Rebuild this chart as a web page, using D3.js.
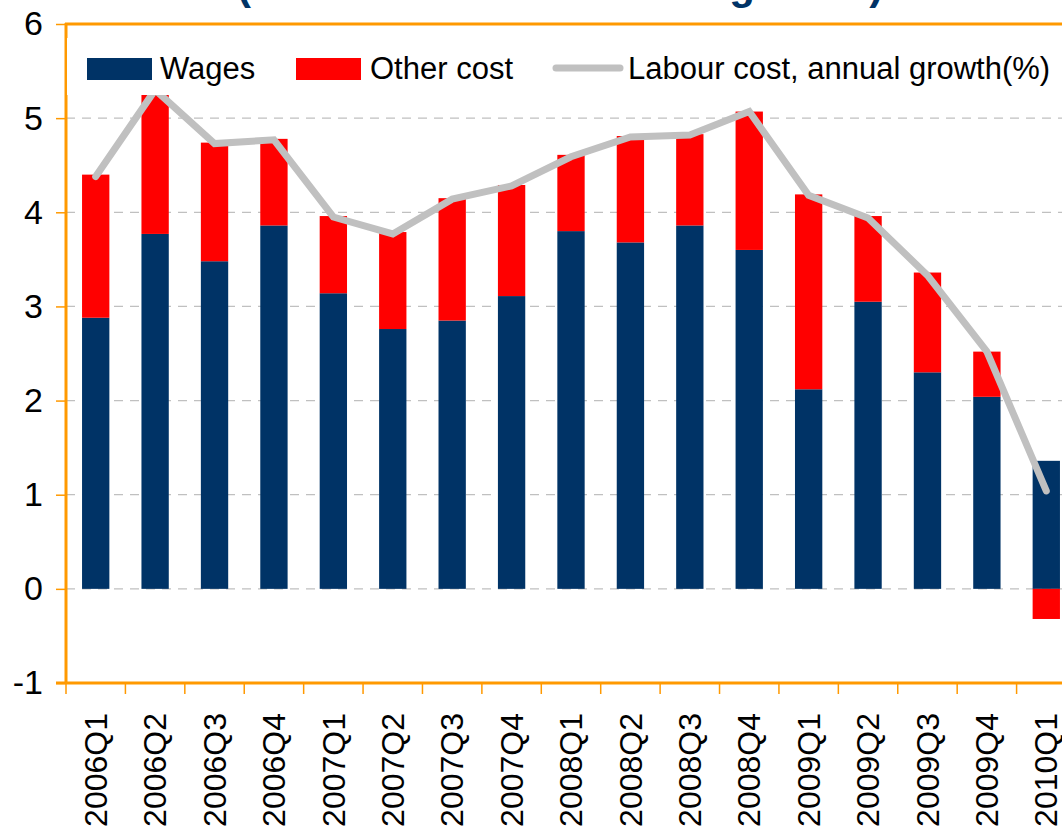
<!DOCTYPE html>
<html>
<head>
<meta charset="utf-8">
<title>Labour cost growth</title>
<script src="https://d3js.org/d3.v7.min.js"></script>
<style>
  body { margin: 0; background: #fff; overflow: hidden; }
  svg { display: block; font-family: "Liberation Sans", Arial, sans-serif; }
</style>
</head>
<body>
<svg id="chart" width="1062" height="834"></svg>
<script>
// quarters on the x axis
var quarters = ["2006Q1","2006Q2","2006Q3","2006Q4","2007Q1","2007Q2","2007Q3","2007Q4",
                "2008Q1","2008Q2","2008Q3","2008Q4","2009Q1","2009Q2","2009Q3","2009Q4","2010Q1"]
// contributions (percentage points)
var wages     = [2.88, 3.77, 3.48, 3.86, 3.14, 2.76, 2.85, 3.11, 3.80, 3.68, 3.86, 3.60, 2.12, 3.05, 2.30, 2.04, 1.36]
var otherCost = [1.52, 1.52, 1.26, 0.92, 0.82, 1.03, 1.30, 1.18, 0.81, 1.13, 0.97, 1.47, 2.07, 0.91, 1.06, 0.48, -0.32]
// labour cost, annual growth (%)
var labourCost = [4.38, 5.30, 4.73, 4.77, 3.95, 3.77, 4.14, 4.28, 4.59, 4.80, 4.82, 5.07, 4.18, 3.94, 3.33, 2.52, 1.04]
var yTicks = [-1, 0, 1, 2, 3, 4, 5, 6]
var titleText = "(contributions to annual growth)"
var legendNames = ["Wages", "Other cost", "Labour cost, annual growth(%)"]

var rows = quarters.map(function (q, i) {
    return { quarter: q, wages: wages[i], other: otherCost[i] }
})

var svg = d3.select("#chart")
var orange = "#ff9900"

var x = d3.scaleBand().domain(quarters).range([66, 1076]).paddingInner(0.54).paddingOuter(0.27)
var y = d3.scaleLinear().domain([-1, 6]).range([683, 24])

// title, mostly cut off at the top
svg.append("text")
    .attr("x", 237).attr("y", -1)
    .attr("fill", "#003366")
    .attr("font-weight", "bold")
    .attr("font-size", 42)
    .text(titleText)

// dashed grid
svg.append("g").selectAll("line")
    .data(yTicks.filter(function (t) { return t > -1 && t < 6 }))
    .enter().append("line")
    .attr("x1", 66).attr("x2", 1062)
    .attr("y1", function (d) { return y(d) }).attr("y2", function (d) { return y(d) })
    .attr("stroke", "#c0c0c0").attr("stroke-width", 1.3).attr("stroke-dasharray", "9,7")

// stacked bars
var series = d3.stack().keys(["wages", "other"]).offset(d3.stackOffsetDiverging)(rows)
var colors = { wages: "#003366", other: "#ff0000" }

svg.append("g").selectAll("g")
    .data(series).enter().append("g")
    .attr("fill", function (s) { return colors[s.key] })
    .selectAll("rect")
    .data(function (s) { return s }).enter().append("rect")
    .attr("x", function (d) { return x(d.data.quarter) })
    .attr("width", x.bandwidth())
    .attr("y", function (d) { return y(Math.max(d[0], d[1])) })
    .attr("height", function (d) { return Math.abs(y(d[0]) - y(d[1])) })

// growth line
svg.append("path")
    .datum(labourCost)
    .attr("fill", "none")
    .attr("stroke", "#c0c0c0")
    .attr("stroke-width", 7)
    .attr("stroke-linecap", "round")
    .attr("d", d3.line()
        .x(function (d, i) { return x(quarters[i]) + x.bandwidth() / 2 })
        .y(function (d) { return y(d) }))

// y axis
var yAxis = svg.append("g").attr("transform", "translate(66,0)")
    .call(d3.axisLeft(y).tickValues(yTicks).tickSize(10).tickPadding(13).tickFormat(function (d) { return String(d) }))
yAxis.select(".domain").remove()
yAxis.selectAll(".tick line").attr("stroke", orange).attr("stroke-width", 1.5)
yAxis.selectAll(".tick text").attr("font-size", 34).attr("fill", "#000")
    .attr("font-family", "Liberation Sans, Arial, sans-serif")

// x axis ticks sit on band boundaries, labels rotated
svg.append("g").selectAll("line")
    .data(quarters).enter().append("line")
    .attr("x1", function (d) { return x(d) - x.step() * x.paddingInner() / 2 })
    .attr("x2", function (d) { return x(d) - x.step() * x.paddingInner() / 2 })
    .attr("y1", 683).attr("y2", 694)
    .attr("stroke", orange).attr("stroke-width", 1.5)
svg.append("g").selectAll("text")
    .data(quarters).enter().append("text")
    .attr("transform", function (d) { return "translate(" + (x(d) + x.bandwidth() / 2) + ",713) rotate(-90)" })
    .attr("text-anchor", "end")
    .attr("dy", "0.35em")
    .attr("font-size", 32)
    .text(function (d) { return d })

// frame lines
svg.append("line").attr("x1", 66).attr("x2", 66).attr("y1", 23).attr("y2", 684)
    .attr("stroke", orange).attr("stroke-width", 3)
svg.append("line").attr("x1", 65).attr("x2", 1062).attr("y1", 24).attr("y2", 24)
    .attr("stroke", orange).attr("stroke-width", 3)
svg.append("line").attr("x1", 56).attr("x2", 1062).attr("y1", 683).attr("y2", 683)
    .attr("stroke", orange).attr("stroke-width", 3)

// legend
var legend = svg.append("g")
legend.append("rect").attr("x", 67).attr("y", 38).attr("width", 995).attr("height", 57).attr("fill", "#fff")
legend.append("rect").attr("x", 87).attr("y", 58).attr("width", 65).attr("height", 22).attr("fill", colors.wages)
legend.append("text").attr("x", 160).attr("y", 79).attr("font-size", 31).text(legendNames[0])
legend.append("rect").attr("x", 296).attr("y", 58).attr("width", 65).attr("height", 22).attr("fill", colors.other)
legend.append("text").attr("x", 370).attr("y", 79).attr("font-size", 31).text(legendNames[1])
legend.append("line").attr("x1", 556).attr("x2", 620).attr("y1", 68).attr("y2", 68)
    .attr("stroke", "#c0c0c0").attr("stroke-width", 7).attr("stroke-linecap", "round")
legend.append("text").attr("x", 628).attr("y", 79).attr("font-size", 31).text(legendNames[2])
</script>
</body>
</html>
